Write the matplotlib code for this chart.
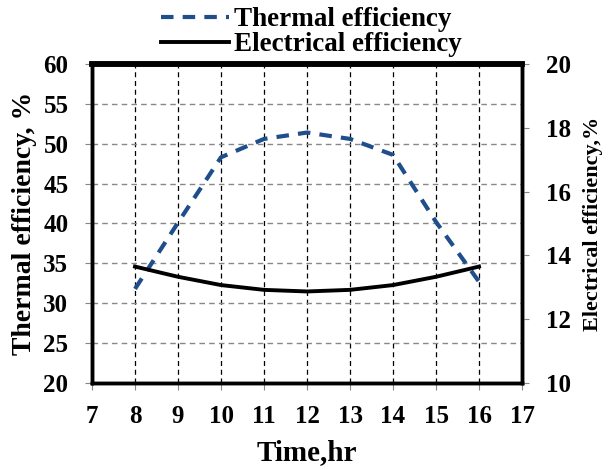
import matplotlib
matplotlib.use("Agg")
import matplotlib.pyplot as plt

# data
time_hr = [8, 9, 10, 11, 12, 13, 14, 15, 16]
thermal_eff = [31.8, 40.1, 48.3, 50.6, 51.4, 50.6, 48.6, 40.2, 32.7]
electrical_eff = [13.65, 13.33, 13.07, 12.92, 12.87, 12.92, 13.07, 13.33, 13.65]

plt.rcParams['font.family'] = ['Liberation Serif', 'DejaVu Serif']
plt.rcParams['font.weight'] = 'bold'

fig = plt.figure(figsize=(6.15, 4.7), dpi=100)
ax = fig.add_axes([0.1496, 0.185, 0.6992, 0.679])
ax2 = ax.twinx()

# grid
for x in range(8, 17):
    ax.axvline(x, color='black', ls=(0, (4, 3)), lw=0.9, zorder=0)
for y in range(25, 60, 5):
    ax.axhline(y, color='#888888', ls=(0, (4, 3)), lw=1.0, zorder=0)

l1, = ax.plot(time_hr, thermal_eff, color='#1f4e8c', ls=(0, (3, 2.2)), lw=3,
              label='Thermal efficiency')
l2, = ax2.plot(time_hr, electrical_eff, color='black', lw=2.8,
               label='Electrical efficiency')

ax.set_xlim(7, 17)
ax.set_ylim(20, 60)
ax2.set_ylim(10, 20)
ax.set_xticks(range(7, 18))
ax.set_yticks(range(20, 61, 5))
ax2.set_yticks(range(10, 21, 2))

ax.tick_params(axis='x', labelsize=18, length=5, color='#888888', pad=11)
ax.tick_params(axis='y', labelsize=18, length=5, color='#888888', pad=12)
ax2.tick_params(axis='y', labelsize=18, length=5, color='#888888', pad=12)

for s in ['left', 'right', 'bottom']:
    ax.spines[s].set_linewidth(2.5)
    ax2.spines[s].set_linewidth(2.5)
ax.spines['top'].set_linewidth(4)
ax2.spines['top'].set_linewidth(4)

ax.set_xlabel('Time,hr', fontsize=21, fontweight='bold')
ax.xaxis.set_label_coords(0.5, -0.175)
ax.set_ylabel('Thermal efficiency, %', fontsize=20, fontweight='bold')
ax.yaxis.set_label_coords(-0.128, 0.5)
ax2.set_ylabel('Electrical efficiency,%', fontsize=16, fontweight='bold')
ax2.yaxis.set_label_coords(1.142, 0.5)

fig.legend(handles=[l1, l2], loc='upper center', bbox_to_anchor=(0.507, 1.036),
           frameon=False, prop={'size': 19.5, 'weight': 'bold'},
           handlelength=2.5, handletextpad=0.2, labelspacing=0.0)

fig.savefig('out.png', dpi=100)
